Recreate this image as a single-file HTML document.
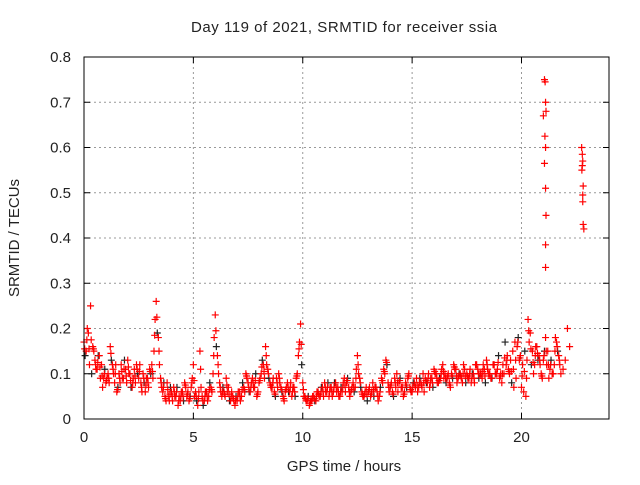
<!DOCTYPE html>
<html><head><meta charset="utf-8"><style>
body{margin:0;background:#fff;font-family:"Liberation Sans",sans-serif}
svg text{font-family:"Liberation Sans",sans-serif;font-size:15px;fill:#222}
</style></head><body>
<svg id="c" width="640" height="480">
<text x="344" y="32" text-anchor="middle" textLength="306">Day 119 of 2021, SRMTID for receiver ssia</text>
<text x="344" y="471" text-anchor="middle">GPS time / hours</text>
<text transform="translate(19,238) rotate(-90)" text-anchor="middle">SRMTID / TECUs</text>
<g id="grid"></g><g id="marks"></g>
<rect x="84" y="57" width="525" height="362" fill="none" stroke="#000"/>
</svg>
<script>
const xTicks=[0,5,10,15,20];
const yTicks=[0,0.1,0.2,0.3,0.4,0.5,0.6,0.7,0.8];
const yLabels=["0","0.1","0.2","0.3","0.4","0.5","0.6","0.7","0.8"];
const t0=0, dt=0.1;
const valsA=[0.17,0.15,0.19,0.25,0.16,0.13,0.11,0.14,0.12,0.09,0.08,0.10,0.16,0.12,0.08,0.06,0.10,0.12,0.09,0.11,0.13,0.10,0.07,0.11,0.12,0.09,0.08,0.10,0.06,0.09,0.11,0.12,0.15,0.26,0.18,0.09,0.06,0.05,0.08,0.04,0.06,0.07,0.05,0.03,0.04,0.06,0.08,0.05,0.04,0.07,0.12,0.06,0.03,0.15,0.05,0.04,0.06,0.05,0.07,0.10,0.23,0.14,0.08,0.05,0.06,0.09,0.07,0.04,0.05,0.03,0.04,0.06,0.05,0.07,0.10,0.08,0.06,0.09,0.07,0.05,0.08,0.10,0.12,0.16,0.11,0.08,0.07,0.06,0.09,0.10,0.07,0.05,0.06,0.08,0.06,0.05,0.07,0.09,0.14,0.21,0.08,0.05,0.04,0.03,0.04,0.05,0.04,0.06,0.05,0.07,0.08,0.06,0.05,0.07,0.06,0.08,0.07,0.05,0.06,0.09,0.08,0.07,0.06,0.08,0.07,0.14,0.09,0.06,0.05,0.07,0.06,0.05,0.08,0.07,0.06,0.05,0.09,0.11,0.13,0.08,0.07,0.06,0.09,0.10,0.08,0.07,0.05,0.08,0.09,0.07,0.06,0.08,0.09,0.07,0.08,0.10,0.09,0.08,0.07,0.09,0.11,0.10,0.08,0.09,0.12,0.10,0.09,0.08,0.10,0.12,0.11,0.09,0.10,0.08,0.11,0.10,0.09,0.08,0.10,0.12,0.11,0.10,0.09,0.11,0.13,0.10,0.09,0.12,0.10,0.11,0.09,0.08,0.10,0.12,0.11,0.13,0.15,0.17,0.16,0.13,0.07,0.06,0.05,0.22,0.19,0.15,0.12,0.16,0.14,0.10,0.13,0.18,0.15,0.11,0.10,0.12,0.17,0.14,0.10,0.11,0.13,0.20,0.16];
const valsB=[0.14,0.20,0.12,0.10,0.15,0.11,0.14,0.09,0.07,0.11,0.09,0.08,0.13,0.10,0.12,0.07,0.08,0.09,0.13,0.08,0.10,0.07,0.09,0.08,0.10,0.12,0.06,0.08,0.09,0.07,0.10,0.09,0.22,0.19,0.12,0.07,0.08,0.04,0.05,0.07,0.04,0.05,0.07,0.05,0.06,0.04,0.07,0.06,0.05,0.09,0.05,0.04,0.06,0.07,0.03,0.06,0.04,0.08,0.06,0.18,0.16,0.10,0.06,0.07,0.05,0.06,0.04,0.06,0.04,0.05,0.06,0.04,0.08,0.06,0.09,0.06,0.08,0.07,0.10,0.06,0.09,0.13,0.09,0.12,0.09,0.07,0.09,0.05,0.07,0.08,0.06,0.04,0.07,0.06,0.08,0.07,0.05,0.10,0.17,0.12,0.05,0.04,0.05,0.04,0.05,0.04,0.06,0.05,0.07,0.05,0.06,0.08,0.07,0.05,0.08,0.06,0.05,0.07,0.08,0.06,0.09,0.05,0.07,0.06,0.11,0.10,0.07,0.05,0.06,0.04,0.07,0.06,0.05,0.07,0.04,0.07,0.08,0.10,0.12,0.06,0.08,0.05,0.07,0.06,0.09,0.07,0.06,0.07,0.10,0.06,0.08,0.07,0.06,0.09,0.07,0.06,0.08,0.10,0.09,0.07,0.10,0.08,0.09,0.11,0.09,0.08,0.10,0.07,0.09,0.11,0.08,0.10,0.09,0.12,0.08,0.09,0.11,0.10,0.08,0.12,0.09,0.10,0.12,0.08,0.11,0.10,0.09,0.12,0.10,0.14,0.10,0.12,0.17,0.14,0.10,0.08,0.07,0.09,0.18,0.14,0.12,0.15,0.13,0.17,0.12,0.10,0.16,0.13,0.12,0.09,0.15,0.12,0.09,0.13,0.10,0.18,0.15,0.12];
const outT=[21.05,21.08,21.10,21.12,21.0,21.07,21.1,21.05,21.1,21.12,21.1,21.1,22.75,22.78,22.8,22.78,22.76,22.82,22.8,22.8,22.85,22.82];
const outV=[0.75,0.745,0.70,0.68,0.67,0.625,0.60,0.565,0.51,0.45,0.385,0.335,0.60,0.585,0.57,0.56,0.55,0.515,0.495,0.48,0.42,0.43];
const X=v=>84+v*(525/24), Y=v=>419-v*(362/0.8);
const NS="http://www.w3.org/2000/svg", svg=document.getElementById('c');
const grid=document.getElementById('grid'), marks=document.getElementById('marks');
function mk(tag,at,parent){const e=document.createElementNS(NS,tag);for(const k in at)e.setAttribute(k,at[k]);parent.appendChild(e);return e;}
xTicks.forEach(v=>{
 const g=mk('line',{x1:X(v),x2:X(v),y1:57,y2:419,stroke:'#999','stroke-dasharray':'2,3'},grid);
 
 
 mk('line',{x1:X(v),x2:X(v),y1:419,y2:413,stroke:'#000'},grid);
 mk('line',{x1:X(v),x2:X(v),y1:57,y2:63,stroke:'#000'},grid);
 const t=mk('text',{x:X(v),y:442,'text-anchor':'middle'},svg);t.textContent=v;
 
 
});
yTicks.forEach((v,i)=>{
 const g=mk('line',{x1:84,x2:609,y1:Y(v),y2:Y(v),stroke:'#999','stroke-dasharray':'2,3'},grid);
 
 
 mk('line',{x1:84,x2:90,y1:Y(v),y2:Y(v),stroke:'#000'},grid);
 mk('line',{x1:603,x2:609,y1:Y(v),y2:Y(v),stroke:'#000'},grid);
 const t=mk('text',{x:71,y:Y(v)+5,'text-anchor':'end'},svg);t.textContent=yLabels[i];
 
 
});
function plus(x,y,c){const p=mk('path',{d:`M${x-3.5} ${y}h7M${x} ${y-3.5}v7`,stroke:c,'stroke-width':1.2,fill:'none'},marks);
 
 }
valsB.forEach((v,i)=>plus(X(t0+i*dt+0.05),Y(v),i%3===0?'#222':'#f00'));
valsA.forEach((v,i)=>plus(X(t0+i*dt),Y(v),'#f00'));
valsA.forEach((v,i)=>plus(X(t0+i*dt+0.03),Y((v+valsB[i])/2),'#f00'));
outT.forEach((t,i)=>plus(X(t),Y(outV[i]),'#f00'));
</script>
</body></html>
